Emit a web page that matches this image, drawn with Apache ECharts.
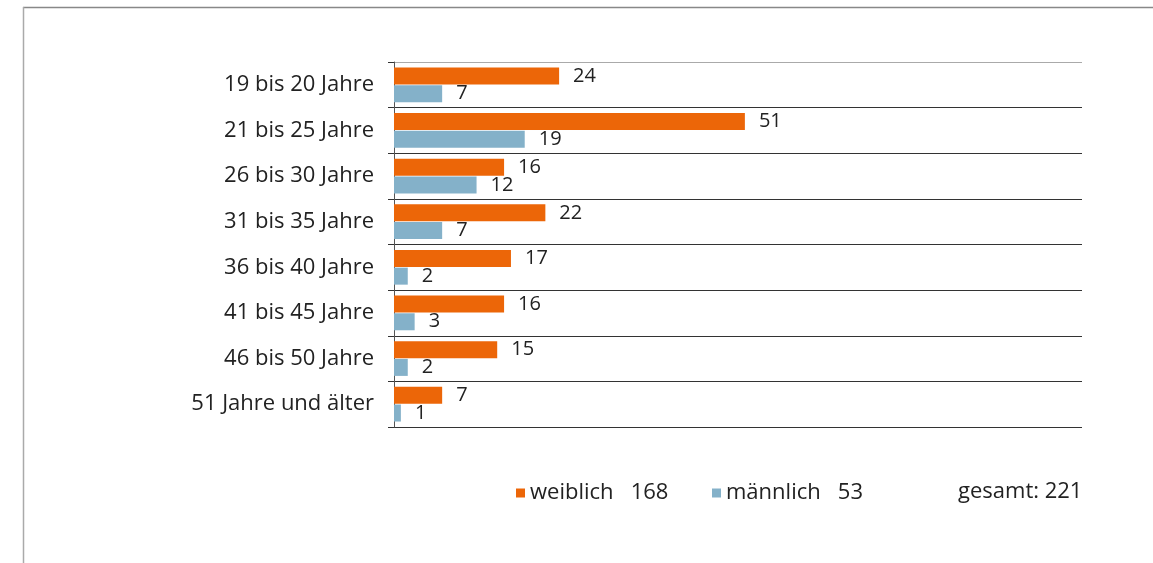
<!DOCTYPE html>
<html><head><meta charset="utf-8">
<script src="https://cdn.jsdelivr.net/npm/echarts@6/dist/echarts.min.js"></script>
<style>html,body{margin:0;padding:0;background:#fff}#c{width:1153px;height:563px}</style>
</head><body><div id="c"></div>
<script>
var categories = ['19 bis 20 Jahre','21 bis 25 Jahre','26 bis 30 Jahre','31 bis 35 Jahre','36 bis 40 Jahre','41 bis 45 Jahre','46 bis 50 Jahre','51 Jahre und älter'];
var weiblich = [24,51,16,22,17,16,15,7];
var maennlich = [7,19,12,7,2,3,2,1];
var sum = function(a){return a.reduce(function(s,v){return s+v;},0);};
var totalW = sum(weiblich), totalM = sum(maennlich), total = totalW + totalM;
var FONT = 'Open Sans';
var chart = echarts.init(document.getElementById('c'));
var lbl = {show:true, position:'right', distance:14, color:'#222', fontSize:20, fontFamily:FONT};
chart.setOption({
  animation:false,
  textStyle:{fontFamily:FONT},
  grid:{left:394, right:71, top:62, bottom:136},
  xAxis:{type:'value', min:0, max:100, show:false},
  yAxis:{type:'category', data:categories, inverse:true,
    axisLine:{show:true, lineStyle:{color:'#555', width:1}},
    axisTick:{show:true, length:6, lineStyle:{color:'#333'}},
    axisLabel:{fontSize:22, color:'#222', margin:20, fontFamily:FONT},
    splitLine:{show:true, lineStyle:{color:['#aaa','#333','#333','#333','#333','#333','#333','#333','#333'], width:1}}
  },
  legend:[
    {left:511, top:477, itemWidth:9, itemHeight:9, itemGap:6, icon:'rect', data:['weiblich'],
     textStyle:{fontSize:22, color:'#222', fontFamily:FONT},
     formatter:function(n){return n + '   ' + totalW;}},
    {left:707, top:477, itemWidth:9, itemHeight:9, itemGap:6, icon:'rect', data:['männlich'],
     textStyle:{fontSize:22, color:'#222', fontFamily:FONT},
     formatter:function(n){return n + '   ' + totalM;}}
  ],
  graphic:[
    {type:'text', left:958, top:481, style:{text:'gesamt: ' + total, fontSize:22, fill:'#222', fontFamily:FONT}},
    {type:'line', shape:{x1:23, y1:7.5, x2:1153, y2:7.5}, style:{stroke:'#888', lineWidth:1.5}},
    {type:'line', shape:{x1:23.5, y1:7, x2:23.5, y2:563}, style:{stroke:'#aaa', lineWidth:1.5}}
  ],
  series:[
    {name:'weiblich', type:'bar', data:weiblich, barWidth:17, barGap:'4%', itemStyle:{color:'#EC6608'}, label:lbl},
    {name:'männlich', type:'bar', data:maennlich, barWidth:17, itemStyle:{color:'#84B1C9'}, label:lbl}
  ]
});
</script></body></html>
